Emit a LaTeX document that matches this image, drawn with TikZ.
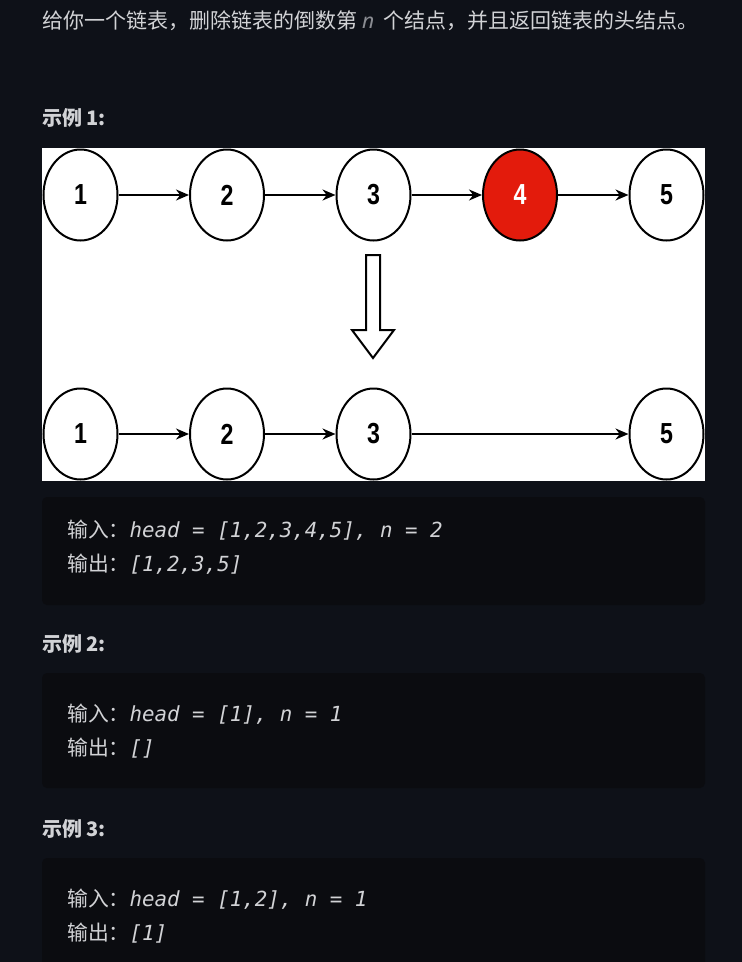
\documentclass[tikz,border=0pt]{standalone}
\usepackage{fontspec}
\setmainfont{Noto Sans CJK SC}
\newfontfamily\cjkfont{Noto Sans CJK SC}
\newfontfamily\codefont{DejaVu Sans Mono}
\newfontfamily\numfont[FakeStretch=0.8]{Liberation Sans}
\newfontfamily\latinfont{Noto Sans}
\usetikzlibrary{shapes.geometric,arrows.meta}
\definecolor{pagebg}{HTML}{0E1118}
\definecolor{codebg}{HTML}{0B0C10}
\definecolor{txt}{HTML}{D2D3D6}
\definecolor{muted}{HTML}{8A8C92}
\definecolor{hi}{HTML}{E31B0C}
\tikzset{
  listnode/.style={ellipse, draw=black, line width=2pt, fill=white,
    minimum width=74pt, minimum height=91pt, inner sep=0pt,
    font=\numfont\bfseries\fontsize{29}{29}\selectfont},
  delnode/.style={listnode, fill=hi, text=white},
  link/.style={-{Stealth[length=13pt,width=11pt]}, line width=2pt, draw=black},
  codebox/.style={fill=codebg, rounded corners=5pt},
  heading/.style={anchor=base west, text=txt, inner sep=0pt,
    font=\cjkfont\bfseries\fontsize{20}{24}\selectfont},
  codeline/.style={anchor=base west, text=txt, inner sep=0pt,
    font=\fontsize{20.8}{24}\selectfont},
  titletext/.style={anchor=base west, text=txt, inner sep=0pt,
    font=\cjkfont\fontsize{21}{24}\selectfont},
}
\begin{document}
\begin{tikzpicture}[x=1pt,y=-1pt]
\useasboundingbox (0,0) rectangle (742,962);
\fill[pagebg] (0,0) rectangle (742,962);

% title
\node[titletext] (title) at (42,28) {给你一个链表，删除链表的倒数第\hspace{5pt}{\latinfont\itshape\color{muted}n}\hspace{9pt}个结点，并且返回链表的头结点。};

% example 1
\node[heading] (ex1) at (42,125) {示例 1:};
\fill[white] (42,148) rectangle (705,481);

\node[listnode] (a1) at (80.5,195) {1};
\node[listnode] (a2) at (227,195) {2};
\node[listnode] (a3) at (373.5,195) {3};
\node[delnode]  (a4) at (520,195) {4};
\node[listnode] (a5) at (666.5,195) {5};
\draw[link] (a1) -- (a2);
\draw[link] (a2) -- (a3);
\draw[link] (a3) -- (a4);
\draw[link] (a4) -- (a5);

\draw[line width=2pt, fill=white, line join=miter]
  (366,255) -- (380,255) -- (380,330) -- (394,330) -- (373,358)
  -- (352,330) -- (366,330) -- cycle;

\node[listnode] (b1) at (80.5,434) {1};
\node[listnode] (b2) at (227,434) {2};
\node[listnode] (b3) at (373.5,434) {3};
\node[listnode] (b5) at (666.5,434) {5};
\draw[link] (b1) -- (b2);
\draw[link] (b2) -- (b3);
\draw[link] (b3) -- (b5);

\fill[codebox] (42,497) rectangle (705,605);
\node[codeline] (in1) at (67,537) {{\cjkfont 输入：}{\codefont\itshape head = [1,2,3,4,5], n = 2}};
\node[codeline] (out1) at (67,571) {{\cjkfont 输出：}{\codefont\itshape [1,2,3,5]}};

% example 2
\node[heading] (ex2) at (42,651) {示例 2:};
\fill[codebox] (42,673) rectangle (705,788);
\node[codeline] (in2) at (67,721) {{\cjkfont 输入：}{\codefont\itshape head = [1], n = 1}};
\node[codeline] (out2) at (67,755) {{\cjkfont 输出：}{\codefont\itshape []}};

% example 3
\node[heading] (ex3) at (42,836) {示例 3:};
\fill[codebox] (42,858) rectangle (705,980);
\node[codeline] (in3) at (67,906) {{\cjkfont 输入：}{\codefont\itshape head = [1,2], n = 1}};
\node[codeline] (out3) at (67,940) {{\cjkfont 输出：}{\codefont\itshape [1]}};
\end{tikzpicture}
\end{document}
